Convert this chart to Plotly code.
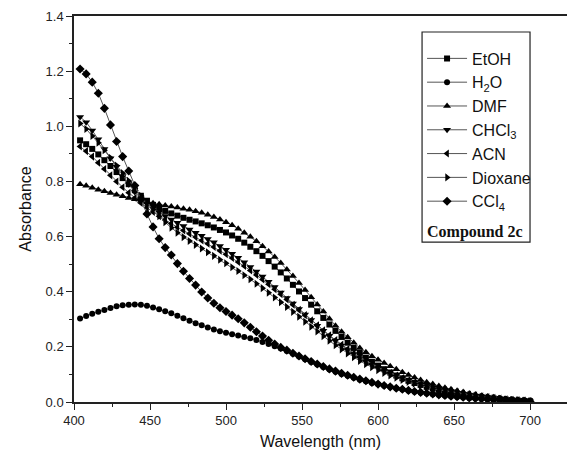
import plotly.graph_objects as go

wavelength = list(range(404, 701, 4))

etoh = [0.949, 0.935, 0.918, 0.898, 0.877, 0.856, 0.834, 0.812, 0.790, 0.768,
        0.748, 0.730, 0.715, 0.703, 0.693, 0.684, 0.676, 0.668, 0.661, 0.655,
        0.648, 0.641, 0.633, 0.624, 0.615, 0.604, 0.592, 0.578, 0.563, 0.547,
        0.530, 0.511, 0.491, 0.470, 0.448, 0.425, 0.401, 0.377, 0.353, 0.329,
        0.305, 0.281, 0.258, 0.236, 0.215, 0.196, 0.178, 0.161, 0.146, 0.132,
        0.119, 0.107, 0.096, 0.086, 0.077, 0.069, 0.062, 0.055, 0.049, 0.044,
        0.039, 0.034, 0.030, 0.027, 0.023, 0.020, 0.018, 0.015, 0.013, 0.011,
        0.009, 0.007, 0.005, 0.004, 0.003]

h2o = [0.303, 0.312, 0.320, 0.327, 0.334, 0.341, 0.347, 0.351, 0.353, 0.354,
       0.353, 0.349, 0.343, 0.336, 0.329, 0.322, 0.313, 0.304, 0.295, 0.286,
       0.278, 0.270, 0.263, 0.257, 0.251, 0.246, 0.241, 0.236, 0.231, 0.225,
       0.218, 0.210, 0.202, 0.194, 0.185, 0.175, 0.165, 0.155, 0.145, 0.136,
       0.127, 0.118, 0.110, 0.102, 0.095, 0.088, 0.081, 0.075, 0.069, 0.064,
       0.059, 0.054, 0.049, 0.045, 0.041, 0.037, 0.034, 0.031, 0.028, 0.025,
       0.023, 0.020, 0.018, 0.016, 0.014, 0.013, 0.011, 0.010, 0.008, 0.007,
       0.006, 0.005, 0.004, 0.003, 0.002]

dmf = [0.790, 0.784, 0.777, 0.770, 0.764, 0.758, 0.752, 0.746, 0.740, 0.735,
       0.730, 0.725, 0.721, 0.717, 0.713, 0.709, 0.705, 0.701, 0.697, 0.692,
       0.686, 0.679, 0.671, 0.662, 0.652, 0.641, 0.628, 0.614, 0.599, 0.583,
       0.565, 0.546, 0.526, 0.504, 0.481, 0.457, 0.432, 0.406, 0.380, 0.354,
       0.328, 0.302, 0.277, 0.255, 0.235, 0.215, 0.196, 0.180, 0.166, 0.153,
       0.141, 0.130, 0.119, 0.108, 0.098, 0.089, 0.080, 0.072, 0.065, 0.058,
       0.052, 0.046, 0.041, 0.036, 0.031, 0.027, 0.023, 0.020, 0.017, 0.014,
       0.011, 0.009, 0.007, 0.005, 0.004]

chcl3 = [1.034, 1.015, 0.985, 0.953, 0.918, 0.884, 0.853, 0.820, 0.790, 0.762,
         0.738, 0.718, 0.702, 0.688, 0.675, 0.662, 0.650, 0.638, 0.626, 0.614,
         0.603, 0.591, 0.579, 0.566, 0.552, 0.538, 0.523, 0.507, 0.490, 0.473,
         0.455, 0.436, 0.417, 0.397, 0.377, 0.357, 0.337, 0.317, 0.297, 0.277,
         0.258, 0.240, 0.222, 0.205, 0.189, 0.174, 0.160, 0.147, 0.135, 0.124,
         0.113, 0.103, 0.094, 0.086, 0.078, 0.071, 0.064, 0.058, 0.052, 0.047,
         0.042, 0.038, 0.034, 0.030, 0.026, 0.023, 0.020, 0.017, 0.014, 0.012,
         0.010, 0.008, 0.006, 0.004, 0.003]

acn = [0.927, 0.910, 0.890, 0.868, 0.845, 0.822, 0.800, 0.779, 0.759, 0.740,
       0.722, 0.705, 0.689, 0.674, 0.660, 0.647, 0.634, 0.622, 0.610, 0.598,
       0.586, 0.574, 0.562, 0.549, 0.536, 0.522, 0.508, 0.493, 0.477, 0.461,
       0.444, 0.427, 0.409, 0.391, 0.372, 0.353, 0.334, 0.315, 0.296, 0.278,
       0.260, 0.242, 0.225, 0.208, 0.192, 0.177, 0.163, 0.150, 0.138, 0.126,
       0.115, 0.105, 0.096, 0.087, 0.079, 0.072, 0.065, 0.059, 0.053, 0.048,
       0.043, 0.039, 0.035, 0.031, 0.027, 0.024, 0.021, 0.018, 0.015, 0.013,
       0.010, 0.008, 0.006, 0.005, 0.003]

dioxane = [1.010, 0.990, 0.965, 0.940, 0.913, 0.886, 0.858, 0.830, 0.802, 0.775,
           0.748, 0.722, 0.698, 0.674, 0.652, 0.632, 0.614, 0.598, 0.584, 0.570,
           0.557, 0.543, 0.530, 0.516, 0.503, 0.489, 0.475, 0.460, 0.445, 0.429,
           0.413, 0.396, 0.379, 0.362, 0.345, 0.327, 0.309, 0.291, 0.273, 0.256,
           0.239, 0.222, 0.206, 0.191, 0.176, 0.162, 0.149, 0.137, 0.126, 0.115,
           0.105, 0.096, 0.088, 0.080, 0.073, 0.066, 0.060, 0.054, 0.049, 0.044,
           0.040, 0.036, 0.032, 0.028, 0.025, 0.022, 0.019, 0.016, 0.014, 0.012,
           0.009, 0.007, 0.006, 0.004, 0.003]

ccl4 = [1.208, 1.190, 1.160, 1.120, 1.065, 1.005, 0.945, 0.890, 0.838, 0.785,
        0.735, 0.682, 0.635, 0.592, 0.560, 0.533, 0.502, 0.474, 0.448, 0.424,
        0.399, 0.377, 0.358, 0.342, 0.328, 0.315, 0.302, 0.287, 0.271, 0.255,
        0.239, 0.224, 0.210, 0.198, 0.188, 0.177, 0.167, 0.157, 0.147, 0.138,
        0.129, 0.120, 0.112, 0.104, 0.097, 0.090, 0.083, 0.077, 0.071, 0.065,
        0.060, 0.055, 0.050, 0.046, 0.042, 0.038, 0.035, 0.032, 0.029, 0.026,
        0.024, 0.021, 0.019, 0.017, 0.015, 0.013, 0.012, 0.010, 0.009, 0.008,
        0.006, 0.005, 0.004, 0.003, 0.002]

series_names = ["EtOH", "H<sub>2</sub>O", "DMF", "CHCl<sub>3</sub>", "ACN", "Dioxane", "CCl<sub>4</sub>"]
series_values = [etoh, h2o, dmf, chcl3, acn, dioxane, ccl4]
series_symbols = ["square", "circle", "triangle-up", "triangle-down", "triangle-left", "triangle-right", "diamond"]
series_sizes = [6, 6, 7, 7, 7, 7, 7]

fig = go.Figure()
for i, (name, vals, sym, sz) in enumerate(zip(series_names, series_values, series_symbols, series_sizes)):
    fig.add_trace(go.Scatter(
        x=wavelength, y=vals, name=name, mode="lines+markers",
        line=dict(color="#555555", width=1),
        marker=dict(symbol=sym, size=sz, color="black", line=dict(width=0)),
    ))

font_family = "Liberation Sans, Arial, sans-serif"
axis_common = dict(
    showline=True, linecolor="#222222", linewidth=1.5,
    ticks="outside", ticklen=6, tickwidth=1.2, tickcolor="#222222",
    showgrid=False, zeroline=False,
    tickfont=dict(family=font_family, size=13, color="#222222"),
)

fig.update_layout(
    width=567, height=458,
    margin=dict(l=74, r=0, t=16, b=56, pad=0),
    paper_bgcolor="white", plot_bgcolor="white",
    font=dict(family=font_family, color="#111111"),
    xaxis=dict(range=[400, 724.3], tickmode="array", tickvals=[400, 450, 500, 550, 600, 650, 700],
               mirror=True,
               minor=dict(ticks="outside", ticklen=3, tickwidth=1.2, tickcolor="#222222",
                          tickvals=[425, 475, 525, 575, 625, 675]),
               title=dict(text="Wavelength (nm)", font=dict(family=font_family, size=16), standoff=8),
               **axis_common),
    yaxis=dict(range=[0, 1.4], tickmode="array", tickvals=[0, 0.2, 0.4, 0.6, 0.8, 1.0, 1.2, 1.4],
               tickformat=".1f", mirror=False,
               minor=dict(ticks="outside", ticklen=3, tickwidth=1.2, tickcolor="#222222",
                          tickvals=[0.1, 0.3, 0.5, 0.7, 0.9, 1.1, 1.3]),
               title=dict(text="Absorbance", font=dict(family=font_family, size=16), standoff=10),
               **axis_common),
    showlegend=True,
    legend=dict(x=0.706, y=0.934, xanchor="left", yanchor="top",
                bgcolor="rgba(0,0,0,0)", borderwidth=0,
                font=dict(family=font_family, size=16, color="#111111"),
                itemwidth=40, tracegroupgap=0),
)

fig.add_shape(type="rect", xref="paper", yref="paper", x0=0.706, x1=0.925, y0=0.414, y1=0.9585,
              line=dict(color="#222222", width=1.2), fillcolor="rgba(0,0,0,0)", layer="above")
fig.add_annotation(text="<b>Compound 2c</b>", xref="paper", yref="paper", x=0.712, y=0.44,
                   xanchor="left", yanchor="middle", showarrow=False,
                   font=dict(family="Liberation Serif, Times New Roman, serif", size=16, color="#111111"))

fig.write_html("out.html")
